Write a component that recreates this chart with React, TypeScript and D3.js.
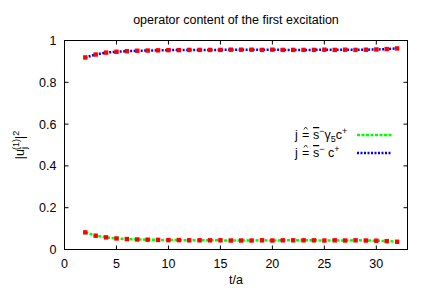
import React from 'react';
import * as d3 from 'd3';

// time slices t/a
const tValues = [2, 3, 4, 5, 6, 7, 8, 9, 10, 11, 12, 13, 14, 15, 16, 17, 18, 19, 20, 21, 22, 23, 24, 25, 26, 27, 28, 29, 30, 31, 32];

// j = s- gamma5 c+  (green)
const gamma5Series = [0.082, 0.066, 0.058, 0.053, 0.050, 0.048, 0.047, 0.046, 0.045, 0.045, 0.044, 0.044, 0.044, 0.044, 0.043, 0.043, 0.043, 0.044, 0.043, 0.044, 0.044, 0.044, 0.044, 0.043, 0.044, 0.043, 0.044, 0.043, 0.042, 0.040, 0.037];

// j = s- c+  (blue)
const scalarSeries = [0.919, 0.933, 0.942, 0.946, 0.949, 0.951, 0.952, 0.953, 0.954, 0.954, 0.955, 0.955, 0.955, 0.955, 0.956, 0.956, 0.956, 0.955, 0.956, 0.955, 0.955, 0.955, 0.955, 0.956, 0.955, 0.956, 0.955, 0.956, 0.957, 0.959, 0.962];

const xTicks = [0, 5, 10, 15, 20, 25, 30];
const yTicks = [0, 0.2, 0.4, 0.6, 0.8, 1];
const yTickLabels = ['0', '0.2', '0.4', '0.6', '0.8', '1'];

export default function App() {
    const width = 432, height = 303;
    const margin = { top: 40.5, right: 24.5, bottom: 53.5, left: 64.5 };

    const x = d3.scaleLinear().domain([0, 33]).range([margin.left, width - margin.right]);
    const y = d3.scaleLinear().domain([0, 1]).range([height - margin.bottom, margin.top]);

    const line = d3.line<number>()
        .x((_, i) => x(tValues[i]))
        .y(d => y(d));

    const font = 'Liberation Sans, Arial, sans-serif';
    const tickLen = 4;
    const fs = 12.5;

    // "corresponds to" sign drawn as = with a small hat above
    const Corr = ({ xPos, yPos }: { xPos: number; yPos: number }) => (
        <g>
            <text x={xPos} y={yPos} fontSize={fs}>=</text>
            <path d={`M${xPos + 1.8},${yPos - 9.5} L${xPos + 3.7},${yPos - 12} L${xPos + 5.6},${yPos - 9.5}`} fill="none" stroke="#000" strokeWidth={0.8} />
        </g>
    );

    return (
        <svg width={width} height={height} style={{ position: 'absolute', left: 0, top: 0, background: '#fff' }} fontFamily={font}>
            <text x={236} y={24} fontSize={fs} textAnchor="middle">operator content of the first excitation</text>

            {/* border */}
            <rect x={x(0)} y={y(1)} width={x(33) - x(0)} height={y(0) - y(1)} fill="none" stroke="#000" strokeWidth={1} />

            {xTicks.map((t, i) => (
                <g key={'x' + i}>
                    <line x1={x(t)} x2={x(t)} y1={y(0)} y2={y(0) - tickLen} stroke="#000" />
                    <line x1={x(t)} x2={x(t)} y1={y(1)} y2={y(1) + tickLen} stroke="#000" />
                    <text x={x(t)} y={y(0) + 18} fontSize={fs} textAnchor="middle">{t}</text>
                </g>
            ))}
            {yTicks.map((t, i) => (
                <g key={'y' + i}>
                    <line x1={x(0)} x2={x(0) + tickLen} y1={y(t)} y2={y(t)} stroke="#000" />
                    <line x1={x(33)} x2={x(33) - tickLen} y1={y(t)} y2={y(t)} stroke="#000" />
                    <text x={x(0) - 8} y={y(t) + 4.5} fontSize={fs} textAnchor="end">{yTickLabels[i]}</text>
                </g>
            ))}

            <text x={236} y={284} fontSize={fs} textAnchor="middle">t/a</text>

            <g transform="translate(24, 145) rotate(-90)">
                <text fontSize={fs} textAnchor="middle">
                    |u<tspan fontSize={9} dy={3}>j</tspan><tspan fontSize={9} dx={-3} dy={-8}>(1)</tspan><tspan dy={5}>|</tspan><tspan fontSize={9} dy={-5}>2</tspan>
                </text>
            </g>

            {/* series lines */}
            <path d={line(gamma5Series) || ''} fill="none" stroke="#00ff00" strokeWidth={2.5} strokeDasharray="3,1.5" />
            <path d={line(scalarSeries) || ''} fill="none" stroke="#0000ff" strokeWidth={2.5} strokeDasharray="2,1.5" />

            {/* red points */}
            {tValues.map((t, i) => (
                <g key={'p' + i}>
                    <rect x={x(t) - 2.2} y={y(gamma5Series[i]) - 2.2} width={4.4} height={4.4} fill="#ff0000" />
                    <rect x={x(t) - 2.2} y={y(scalarSeries[i]) - 2.2} width={4.4} height={4.4} fill="#ff0000" />
                </g>
            ))}

            {/* legend */}
            <text x={295} y={139} fontSize={fs}>j</text>
            <Corr xPos={302} yPos={139} />
            <text x={313} y={139} fontSize={fs}>
                <tspan textDecoration="overline">s</tspan><tspan fontSize={9} dy={-5}>−</tspan><tspan dy={5}>γ</tspan><tspan fontSize={9} dy={3}>5</tspan><tspan dy={-3}>c</tspan><tspan fontSize={9} dy={-5}>+</tspan>
            </text>
            <line x1={357} x2={392} y1={135} y2={135} stroke="#00ff00" strokeWidth={2.5} strokeDasharray="3,1.5" />

            <text x={295} y={157} fontSize={fs}>j</text>
            <Corr xPos={302} yPos={157} />
            <text x={313} y={157} fontSize={fs}>
                <tspan textDecoration="overline">s</tspan><tspan fontSize={9} dy={-5}>−</tspan><tspan dy={5}> c</tspan><tspan fontSize={9} dy={-5}>+</tspan>
            </text>
            <line x1={357} x2={392} y1={153} y2={153} stroke="#0000ff" strokeWidth={2.5} strokeDasharray="2,1.5" />
        </svg>
    );
}
